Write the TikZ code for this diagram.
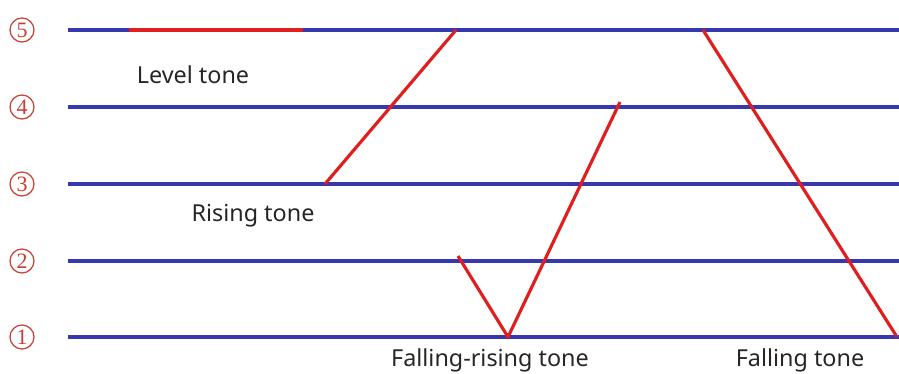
\documentclass[tikz,border=0pt]{standalone}
\usepackage{fontspec}
\newfontfamily\labelfont{Noto Sans}
\newfontfamily\numfont{Liberation Serif}
\definecolor{toneblue}{RGB}{55,55,175}
\definecolor{tonered}{RGB}{225,30,30}
\definecolor{numred}{RGB}{200,60,50}

\begin{document}
\begin{tikzpicture}[x=0.02cm, y=-0.02cm,
	level/.style={draw=toneblue, line width=2.2pt},
	tone/.style={draw=tonered, line width=1.8pt, line join=round},
	num/.style={circle, draw=numred, text=numred, line width=0.7pt, inner sep=0pt, minimum size=4.8mm, font=\numfont\fontsize{12.5}{12.5}\selectfont},
	lbl/.style={font=\labelfont\fontsize{13.3}{15}\selectfont, text=black!85}]
	\useasboundingbox (0,0) rectangle (899,374);
	% the five pitch levels
	\foreach \n/\y in {5/30, 4/107, 3/184, 2/261, 1/337} {
		\node[num] (n\n) at (22,\y) {\n};
		\coordinate (l\n) at (68,\y);
		\coordinate (r\n) at (899,\y);
		\draw[level] (l\n) -- (r\n);
	}
	% tone contours
	\coordinate (lv1) at (129,30);
	\coordinate (lv2) at (303,30);
	\coordinate (ri1) at (325,184);
	\coordinate (ri2) at (456,30);
	\coordinate (fr1) at (458,256);
	\coordinate (fr2) at (508,337);
	\coordinate (fr3) at (620,102);
	\coordinate (fa1) at (703,30);
	\coordinate (fa2) at (897,337);
	\draw[tone] (lv1) -- (lv2);
	\draw[tone] (ri1) -- (ri2);
	\draw[tone] (fr1) -- (fr2) -- (fr3);
	\draw[tone] (fa1) -- (fa2);
	% names
	\node[lbl] (level) at (193,75) {Level tone};
	\node[lbl] (rising) at (253,216) {Rising tone};
	\node[lbl] (fallrise) at (490,360) {Falling-rising tone};
	\node[lbl] (falling) at (800,360) {Falling tone};
\end{tikzpicture}
\end{document}
